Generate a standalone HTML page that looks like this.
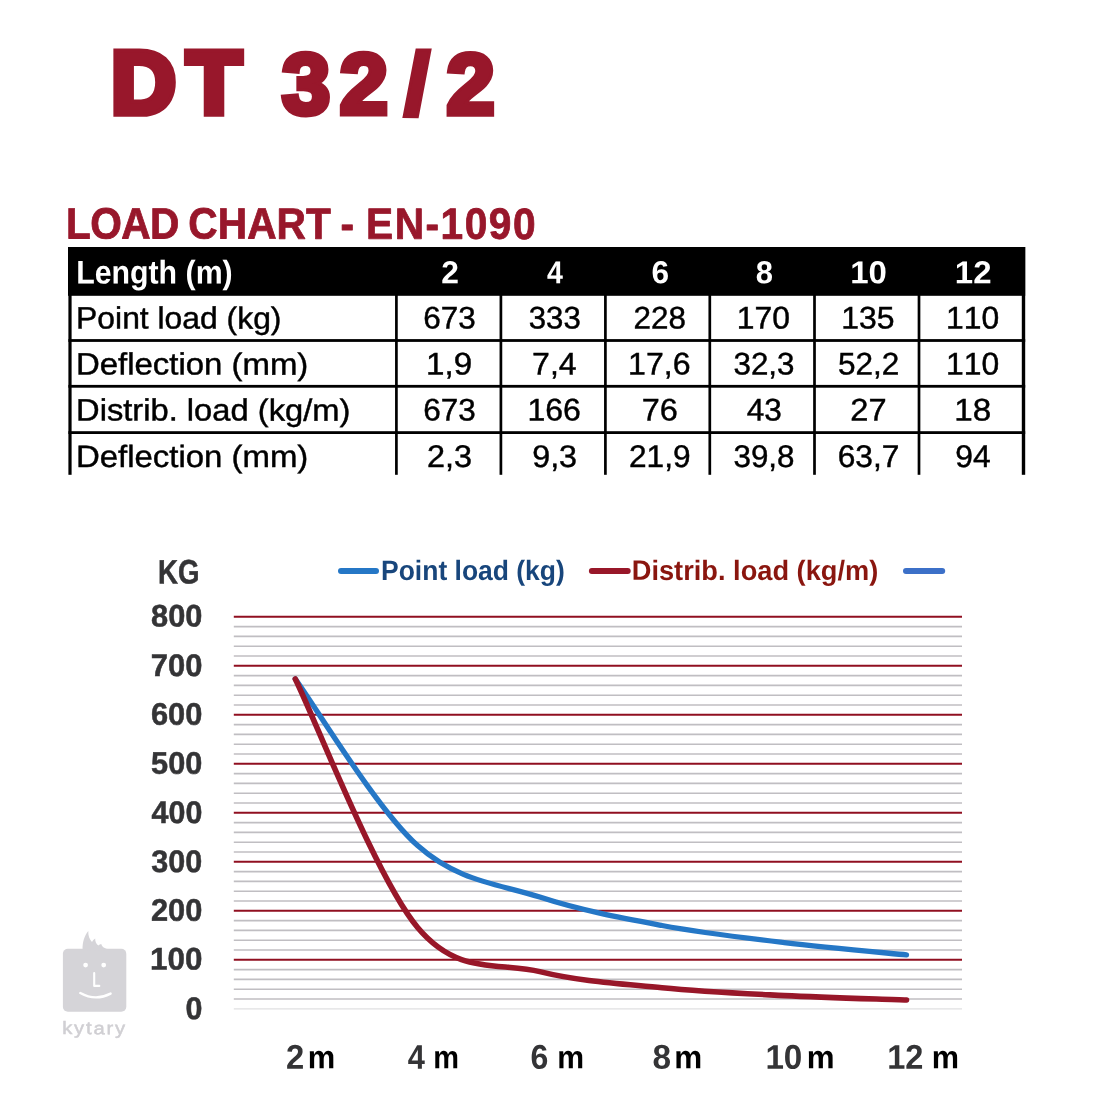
<!DOCTYPE html>
<html lang="en"><head><meta charset="utf-8"><title>DT 32/2 Load Chart - EN-1090</title>
<style>html,body{margin:0;padding:0;background:#fff}body{width:1100px;height:1100px;overflow:hidden}svg{display:block;font-family:"Liberation Sans",sans-serif;font-kerning:none;font-variant-ligatures:none}text{white-space:pre}</style>
</head><body>
<svg width="1100" height="1100" viewBox="0 0 1100 1100">
<rect width="1100" height="1100" fill="#fff"/>
<text transform="translate(0 113.20) matrix(1.0120 0.001 0 1 0 0)" y="-0.30" font-size="88.23" font-weight="700" fill="#98172b" stroke="#98172b" stroke-width="7.6" stroke-linejoin="miter" stroke-miterlimit="3" paint-order="stroke"><tspan x="109.98 184.59">DT</tspan> <tspan x="278.73 335.71 400.31 441.15" dy="0.30" font-size="85.61" stroke-width="5.8">32/2</tspan></text>
<text transform="translate(0 238.33) matrix(0.9300 0.001 0 1 0 0)" font-size="43.75" font-weight="700" fill="#98172b" stroke="#98172b" stroke-width="0.8" stroke-linejoin="round"><tspan x="70.94" letter-spacing="-0.623">LOAD</tspan> <tspan x="202.40" letter-spacing="0.085">CHART</tspan> <tspan x="366.02" letter-spacing="0.000">-</tspan> <tspan x="393.63" letter-spacing="1.596">EN-1090</tspan></text>
<g fill="#000">
<rect x="68" y="247.0" width="957.2" height="48.8"/>
<rect x="68.4" y="247" width="3.2" height="227.8"/>
<rect x="1021.8" y="247" width="3.4" height="227.8"/>
<rect x="395.05" y="294" width="2.7" height="180.8"/>
<rect x="499.55" y="294" width="2.7" height="180.8"/>
<rect x="604.05" y="294" width="2.7" height="180.8"/>
<rect x="708.45" y="294" width="2.7" height="180.8"/>
<rect x="813.15" y="294" width="2.7" height="180.8"/>
<rect x="917.65" y="294" width="2.7" height="180.8"/>
<rect x="68.4" y="339.10" width="956.8" height="2.8"/>
<rect x="68.4" y="384.90" width="956.8" height="2.8"/>
<rect x="68.4" y="431.20" width="956.8" height="2.8"/>
</g>
<text transform="translate(76.17 283.42) matrix(0.9225 0.001 0 1.0 0 0)" font-size="32.85" font-weight="700" fill="#fff">Length (m)</text>
<text transform="translate(441.25 283.29) matrix(1.0000 0.001 0 1.0 0 0)" font-size="31.78" font-weight="700" fill="#fff">2</text>
<text transform="translate(547.02 283.29) matrix(0.8988 0.001 0 1.0 0 0)" font-size="31.78" font-weight="700" fill="#fff">4</text>
<text transform="translate(651.39 283.29) matrix(0.9959 0.001 0 1.0 0 0)" font-size="31.78" font-weight="700" fill="#fff">6</text>
<text transform="translate(755.67 283.29) matrix(0.9753 0.001 0 1.0 0 0)" font-size="31.78" font-weight="700" fill="#fff">8</text>
<text transform="translate(850.17 283.28) matrix(1.0392 0.001 0 1.0 0 0)" font-size="31.78" font-weight="700" fill="#fff">10</text>
<text transform="translate(954.87 283.28) matrix(1.0382 0.001 0 1.0 0 0)" font-size="31.78" font-weight="700" fill="#fff">12</text>
<text transform="translate(76.09 328.50) matrix(1.0343 0.001 0 1.0 0 0)" font-size="30.81" fill="#000" stroke="#000" stroke-width="0.45">Point load (kg)</text>
<text transform="translate(423.25 328.53) matrix(1.0031 0.001 0 1.0 0 0)" font-size="31.36" fill="#000" stroke="#000" stroke-width="0.45">673</text>
<text transform="translate(528.76 328.53) matrix(0.9951 0.001 0 1.0 0 0)" font-size="31.36" fill="#000" stroke="#000" stroke-width="0.45">333</text>
<text transform="translate(633.47 328.53) matrix(1.0025 0.001 0 1.0 0 0)" font-size="31.36" fill="#000" stroke="#000" stroke-width="0.45">228</text>
<text transform="translate(736.72 328.53) matrix(1.0164 0.001 0 1.0 0 0)" font-size="31.36" fill="#000" stroke="#000" stroke-width="0.45">170</text>
<text transform="translate(841.32 328.53) matrix(1.0183 0.001 0 1.0 0 0)" font-size="31.36" fill="#000" stroke="#000" stroke-width="0.45">135</text>
<text transform="translate(946.02 328.53) matrix(1.0164 0.001 0 1.0 0 0)" font-size="31.36" fill="#000" stroke="#000" stroke-width="0.45">110</text>
<text transform="translate(76.00 374.49) matrix(1.0690 0.001 0 1.0 0 0)" font-size="30.81" fill="#000" stroke="#000" stroke-width="0.45">Deflection (mm)</text>
<text transform="translate(426.07 374.53) matrix(1.0575 0.001 0 1.0 0 0)" font-size="31.36" fill="#000" stroke="#000" stroke-width="0.45">1,9</text>
<text transform="translate(532.06 374.53) matrix(1.0228 0.001 0 1.0 0 0)" font-size="31.36" fill="#000" stroke="#000" stroke-width="0.45">7,4</text>
<text transform="translate(628.11 374.52) matrix(1.0216 0.001 0 1.0 0 0)" font-size="31.36" fill="#000" stroke="#000" stroke-width="0.45">17,6</text>
<text transform="translate(733.45 374.52) matrix(1.0008 0.001 0 1.0 0 0)" font-size="31.36" fill="#000" stroke="#000" stroke-width="0.45">32,3</text>
<text transform="translate(837.99 374.52) matrix(1.0052 0.001 0 1.0 0 0)" font-size="31.36" fill="#000" stroke="#000" stroke-width="0.45">52,2</text>
<text transform="translate(946.02 374.53) matrix(1.0164 0.001 0 1.0 0 0)" font-size="31.36" fill="#000" stroke="#000" stroke-width="0.45">110</text>
<text transform="translate(76.02 420.47) matrix(1.0617 0.001 0 1.0 0 0)" font-size="30.81" fill="#000" stroke="#000" stroke-width="0.45">Distrib. load (kg/m)</text>
<text transform="translate(423.25 420.53) matrix(1.0031 0.001 0 1.0 0 0)" font-size="31.36" fill="#000" stroke="#000" stroke-width="0.45">673</text>
<text transform="translate(527.51 420.53) matrix(1.0196 0.001 0 1.0 0 0)" font-size="31.36" fill="#000" stroke="#000" stroke-width="0.45">166</text>
<text transform="translate(641.64 420.53) matrix(1.0347 0.001 0 1.0 0 0)" font-size="31.36" fill="#000" stroke="#000" stroke-width="0.45">76</text>
<text transform="translate(746.68 420.53) matrix(1.0067 0.001 0 1.0 0 0)" font-size="31.36" fill="#000" stroke="#000" stroke-width="0.45">43</text>
<text transform="translate(850.36 420.53) matrix(1.0402 0.001 0 1.0 0 0)" font-size="31.36" fill="#000" stroke="#000" stroke-width="0.45">27</text>
<text transform="translate(954.17 420.53) matrix(1.0602 0.001 0 1.0 0 0)" font-size="31.36" fill="#000" stroke="#000" stroke-width="0.45">18</text>
<text transform="translate(76.00 466.89) matrix(1.0690 0.001 0 1.0 0 0)" font-size="30.81" fill="#000" stroke="#000" stroke-width="0.45">Deflection (mm)</text>
<text transform="translate(426.97 466.93) matrix(1.0336 0.001 0 1.0 0 0)" font-size="31.36" fill="#000" stroke="#000" stroke-width="0.45">2,3</text>
<text transform="translate(532.18 466.93) matrix(1.0309 0.001 0 1.0 0 0)" font-size="31.36" fill="#000" stroke="#000" stroke-width="0.45">9,3</text>
<text transform="translate(628.96 466.92) matrix(1.0092 0.001 0 1.0 0 0)" font-size="31.36" fill="#000" stroke="#000" stroke-width="0.45">21,9</text>
<text transform="translate(733.46 466.92) matrix(1.0005 0.001 0 1.0 0 0)" font-size="31.36" fill="#000" stroke="#000" stroke-width="0.45">39,8</text>
<text transform="translate(837.64 466.92) matrix(1.0111 0.001 0 1.0 0 0)" font-size="31.36" fill="#000" stroke="#000" stroke-width="0.45">63,7</text>
<text transform="translate(955.21 466.93) matrix(1.0157 0.001 0 1.0 0 0)" font-size="31.36" fill="#000" stroke="#000" stroke-width="0.45">94</text>
<g stroke="#c0bec2" stroke-width="1.6">
<line x1="233.8" x2="962.0" y1="999.00" y2="999.00"/>
<line x1="233.8" x2="962.0" y1="989.20" y2="989.20"/>
<line x1="233.8" x2="962.0" y1="979.40" y2="979.40"/>
<line x1="233.8" x2="962.0" y1="969.60" y2="969.60"/>
<line x1="233.8" x2="962.0" y1="950.00" y2="950.00"/>
<line x1="233.8" x2="962.0" y1="940.20" y2="940.20"/>
<line x1="233.8" x2="962.0" y1="930.40" y2="930.40"/>
<line x1="233.8" x2="962.0" y1="920.60" y2="920.60"/>
<line x1="233.8" x2="962.0" y1="901.00" y2="901.00"/>
<line x1="233.8" x2="962.0" y1="891.20" y2="891.20"/>
<line x1="233.8" x2="962.0" y1="881.40" y2="881.40"/>
<line x1="233.8" x2="962.0" y1="871.60" y2="871.60"/>
<line x1="233.8" x2="962.0" y1="852.00" y2="852.00"/>
<line x1="233.8" x2="962.0" y1="842.20" y2="842.20"/>
<line x1="233.8" x2="962.0" y1="832.40" y2="832.40"/>
<line x1="233.8" x2="962.0" y1="822.60" y2="822.60"/>
<line x1="233.8" x2="962.0" y1="803.00" y2="803.00"/>
<line x1="233.8" x2="962.0" y1="793.20" y2="793.20"/>
<line x1="233.8" x2="962.0" y1="783.40" y2="783.40"/>
<line x1="233.8" x2="962.0" y1="773.60" y2="773.60"/>
<line x1="233.8" x2="962.0" y1="754.00" y2="754.00"/>
<line x1="233.8" x2="962.0" y1="744.20" y2="744.20"/>
<line x1="233.8" x2="962.0" y1="734.40" y2="734.40"/>
<line x1="233.8" x2="962.0" y1="724.60" y2="724.60"/>
<line x1="233.8" x2="962.0" y1="705.00" y2="705.00"/>
<line x1="233.8" x2="962.0" y1="695.20" y2="695.20"/>
<line x1="233.8" x2="962.0" y1="685.40" y2="685.40"/>
<line x1="233.8" x2="962.0" y1="675.60" y2="675.60"/>
<line x1="233.8" x2="962.0" y1="656.00" y2="656.00"/>
<line x1="233.8" x2="962.0" y1="646.20" y2="646.20"/>
<line x1="233.8" x2="962.0" y1="636.40" y2="636.40"/>
<line x1="233.8" x2="962.0" y1="626.60" y2="626.60"/>
</g>
<line x1="233.8" x2="962.0" y1="1008.80" y2="1008.80" stroke="#e0e0e2" stroke-width="1.3"/>
<g stroke="#900f20" stroke-width="1.9">
<line x1="233.8" x2="962.0" y1="959.80" y2="959.80"/>
<line x1="233.8" x2="962.0" y1="910.80" y2="910.80"/>
<line x1="233.8" x2="962.0" y1="861.80" y2="861.80"/>
<line x1="233.8" x2="962.0" y1="812.80" y2="812.80"/>
<line x1="233.8" x2="962.0" y1="763.80" y2="763.80"/>
<line x1="233.8" x2="962.0" y1="714.80" y2="714.80"/>
<line x1="233.8" x2="962.0" y1="665.80" y2="665.80"/>
<line x1="233.8" x2="962.0" y1="616.80" y2="616.80"/>
</g>
<path d="M295.3 679.0 C315.7 706.8 376.8 809.3 417.6 845.6 C458.3 882.0 499.0 883.8 539.8 897.1 C580.5 910.4 621.3 917.9 662.0 925.5 C702.8 933.1 743.5 937.8 784.3 942.6 C825.0 947.5 886.2 952.9 906.5 954.9" fill="none" stroke="#2577c6" stroke-width="5.3" stroke-linecap="round" stroke-linejoin="round"/>
<path d="M295.3 679.0 C315.7 720.4 376.8 878.7 417.6 927.5 C458.3 976.2 499.0 961.5 539.8 971.6 C580.5 981.6 621.3 983.7 662.0 987.7 C702.8 991.7 743.5 993.5 784.3 995.6 C825.0 997.6 886.2 999.2 906.5 1000.0" fill="none" stroke="#981729" stroke-width="5.6" stroke-linecap="round" stroke-linejoin="round"/>
<text transform="translate(158.00 583.53) matrix(0.8162 0.001 0 1.0 0 0)" font-size="33.87" font-weight="700" fill="#343436" stroke="#343436" stroke-width="0.5">KG</text>
<text transform="translate(151.07 626.53) matrix(0.9858 0.001 0 1.0 0 0)" font-size="31.21" font-weight="700" fill="#343436" stroke="#343436" stroke-width="0.5">800</text>
<text transform="translate(150.72 676.03) matrix(0.9927 0.001 0 1.0 0 0)" font-size="31.21" font-weight="700" fill="#343436" stroke="#343436" stroke-width="0.5">700</text>
<text transform="translate(150.92 724.73) matrix(0.9888 0.001 0 1.0 0 0)" font-size="31.21" font-weight="700" fill="#343436" stroke="#343436" stroke-width="0.5">600</text>
<text transform="translate(151.10 773.83) matrix(0.9852 0.001 0 1.0 0 0)" font-size="31.21" font-weight="700" fill="#343436" stroke="#343436" stroke-width="0.5">500</text>
<text transform="translate(151.59 823.02) matrix(0.9756 0.001 0 1.0 0 0)" font-size="31.21" font-weight="700" fill="#343436" stroke="#343436" stroke-width="0.5">400</text>
<text transform="translate(151.35 871.92) matrix(0.9804 0.001 0 1.0 0 0)" font-size="31.21" font-weight="700" fill="#343436" stroke="#343436" stroke-width="0.5">300</text>
<text transform="translate(150.98 920.73) matrix(0.9876 0.001 0 1.0 0 0)" font-size="31.21" font-weight="700" fill="#343436" stroke="#343436" stroke-width="0.5">200</text>
<text transform="translate(150.07 969.53) matrix(1.0054 0.001 0 1.0 0 0)" font-size="31.21" font-weight="700" fill="#343436" stroke="#343436" stroke-width="0.5">100</text>
<text transform="translate(185.44 1019.04) matrix(0.9767 0.001 0 1.0 0 0)" font-size="31.21" font-weight="700" fill="#343436" stroke="#343436" stroke-width="0.5">0</text>
<text transform="translate(0 1068.38) matrix(0.9562 0.001 0 1 0 0)" x="299.07" y="0" font-size="34.32" font-weight="700" fill="#343436">2<tspan x="321.81" dy="-0.40" font-size="32.31" fill="#000">m</tspan></text>
<text transform="translate(0 1068.22) matrix(0.8975 0.001 0 1 0 0)" x="454.19" y="0" font-size="34.32" font-weight="700" fill="#343436">4<tspan x="482.84" dy="-0.40" font-size="32.31" fill="#000">m</tspan></text>
<text transform="translate(0 1068.10) matrix(0.9342 0.001 0 1 0 0)" x="567.98" y="0" font-size="34.32" font-weight="700" fill="#343436">6<tspan x="596.45" dy="-0.40" font-size="32.31" fill="#000">m</tspan></text>
<text transform="translate(0 1068.01) matrix(0.9738 0.001 0 1 0 0)" x="670.06" y="0" font-size="34.32" font-weight="700" fill="#343436">8<tspan x="692.41" dy="-0.40" font-size="32.31" fill="#000">m</tspan></text>
<text transform="translate(0 1067.87) matrix(0.9680 0.001 0 1 0 0)" x="790.70" y="0" font-size="34.32" font-weight="700" fill="#343436">10<tspan x="833.55" dy="-0.40" font-size="32.31" fill="#000">m</tspan></text>
<text transform="translate(0 1067.73) matrix(0.9498 0.001 0 1 0 0)" x="934.08" y="0" font-size="34.32" font-weight="700" fill="#343436">12<tspan x="980.99" dy="-0.40" font-size="32.31" fill="#000">m</tspan></text>
<g fill="none" stroke-width="6" stroke-linecap="round">
<line x1="341.0" x2="376.0" y1="571.0" y2="571.0" stroke="#2577c6"/>
<line x1="591.9" x2="627.7" y1="571.0" y2="571.0" stroke="#981729"/>
<line x1="906.0" x2="942.2" y1="571.0" y2="571.0" stroke="#3c70c8"/>
</g>
<text transform="translate(381.03 579.90) matrix(0.9440 0.001 0 1.0 0 0)" font-size="28.05" font-weight="700" fill="#18467c">Point load (kg)</text>
<text transform="translate(631.78 579.87) matrix(0.9706 0.001 0 1.0 0 0)" font-size="28.05" font-weight="700" fill="#8a160f">Distrib. load (kg/m)</text>
<g>
<rect x="62.9" y="948.8" width="63.4" height="63" rx="5" fill="#d5d4d8"/>
<path d="M82.6 950 C82.3 942 84.5 935.5 88.3 931 C88 935.5 89.5 939.5 92 942 C92.8 940.3 93.8 939.2 95.2 938.4 C95 941 96.2 943.8 98.4 945.6 C99.2 944.6 100.2 944.1 101.3 944 C101.8 946.6 104.5 948.8 109.5 949.4 L109.5 951 Z" fill="#d5d4d8"/>
<circle cx="85.6" cy="965.1" r="2.4" fill="#fff"/><circle cx="103.7" cy="965.1" r="2.4" fill="#fff"/>
<path d="M94.2 973 V985.9 H99.3" fill="none" stroke="#fff" stroke-width="2.1" stroke-linecap="round" stroke-linejoin="round"/>
<path d="M80.3 993 Q95.4 1001.4 110.6 993.6" fill="none" stroke="#fff" stroke-width="2.4" stroke-linecap="round"/>
</g>
<text transform="translate(62.21 1034.1) matrix(1 0.001 0 1 0 0)" font-size="17.79" fill="#d0cfd3" stroke="#d0cfd3" stroke-width="0.5" letter-spacing="1.6" textLength="64.73" lengthAdjust="spacingAndGlyphs">kytary</text>
</svg></body></html>
